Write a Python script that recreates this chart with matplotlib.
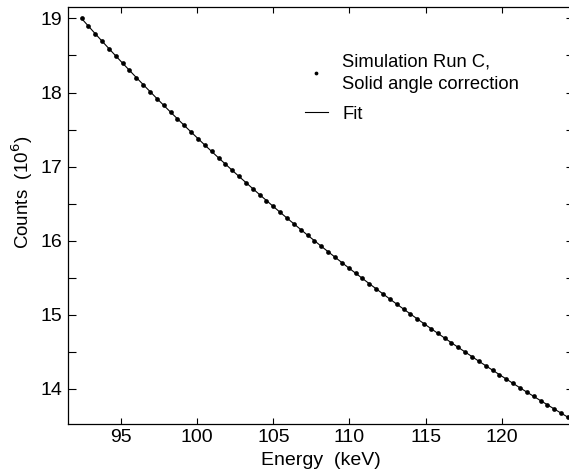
import numpy as np
import matplotlib
matplotlib.use('Agg')
import matplotlib.pyplot as plt
from matplotlib.ticker import MultipleLocator

plt.rcParams['font.family'] = ['Liberation Sans', 'DejaVu Sans']

# energy grid of the simulated points (keV)
energy = np.round(92.4 + 0.45 * np.arange(72), 2)

# counts in units of 10^6
counts = [
    19.000, 18.897, 18.794, 18.693, 18.593, 18.494, 18.396, 18.299, 18.202, 18.107,
    18.013, 17.919, 17.827, 17.735, 17.645, 17.555, 17.466, 17.378, 17.290, 17.204,
    17.118, 17.034, 16.949, 16.866, 16.784, 16.702, 16.621, 16.541, 16.461, 16.382,
    16.304, 16.227, 16.150, 16.074, 15.999, 15.924, 15.850, 15.777, 15.704, 15.632,
    15.561, 15.490, 15.419, 15.350, 15.281, 15.212, 15.144, 15.077, 15.010, 14.944,
    14.878, 14.813, 14.749, 14.685, 14.621, 14.558, 14.496, 14.434, 14.372, 14.311,
    14.251, 14.191, 14.131, 14.072, 14.013, 13.955, 13.898, 13.840, 13.784, 13.727,
    13.671, 13.616,
]

xticks = [95, 100, 105, 110, 115, 120]
yticks = [14, 15, 16, 17, 18, 19]

fig = plt.figure(figsize=(5.69, 4.76), dpi=100)
ax = fig.add_axes([0.120, 0.1086, 0.888, 0.876])

ax.plot(energy, counts, 'o', color='black', markersize=3.4, markeredgewidth=0,
        label='Simulation Run C,\nSolid angle correction')
ax.plot(energy, counts, '-', color='black', linewidth=0.8, label='Fit')

ax.set_xlim(91.53, 124.72)
ax.set_ylim(13.52, 19.15)
ax.set_xticks(xticks)
ax.set_yticks(yticks)
ax.yaxis.set_minor_locator(MultipleLocator(0.5))

ax.tick_params(axis='both', which='both', direction='in', top=True, right=True,
               labelsize=14, width=0.8, colors='black')
ax.tick_params(axis='x', which='major', length=4.5, pad=3.5)
ax.tick_params(axis='y', which='both', length=5.5, pad=4.5)
for s in ax.spines.values():
    s.set_linewidth(0.9)

ax.set_xlabel('Energy  (keV)', fontsize=14, labelpad=4)
ax.set_ylabel('Counts  (10$^6$)', fontsize=13.5)
ax.yaxis.set_label_coords(-0.066, 0.557)

leg = ax.legend(loc='upper left', bbox_to_anchor=(0.435, 0.93), frameon=False,
                fontsize=13.2, handlelength=1.3, handletextpad=0.75, labelspacing=0.7,
                markerscale=0.8)
for t in leg.get_texts():
    t.set_linespacing(1.45)

fig.savefig('out.png', dpi=100)
